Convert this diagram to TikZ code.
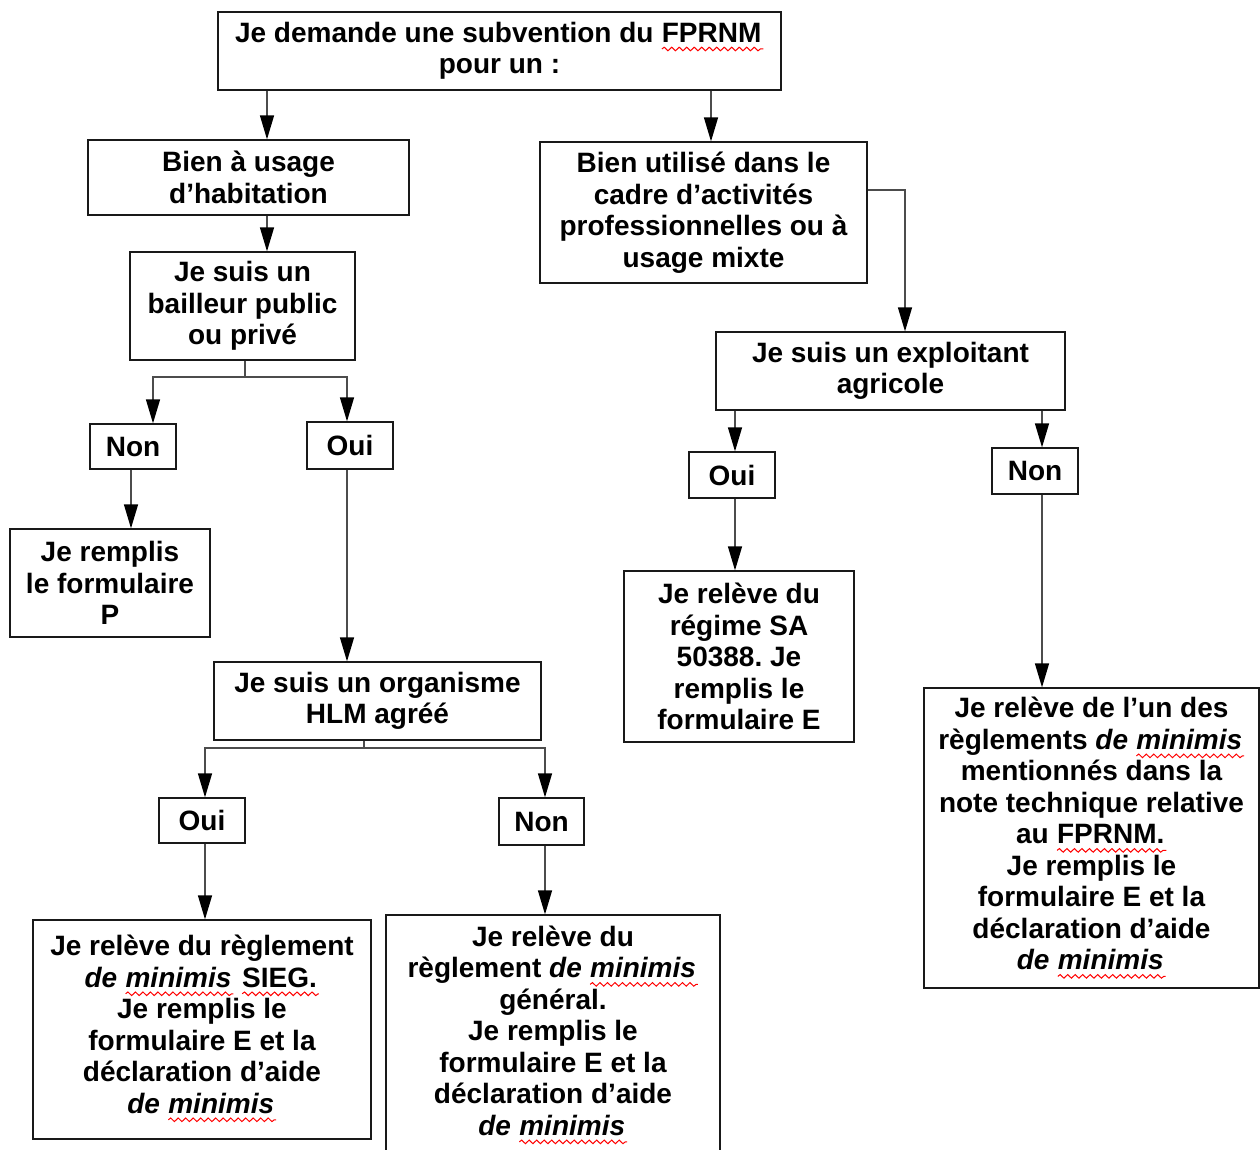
\documentclass[tikz,border=0pt]{standalone}
\usepackage{fontspec}
\setmainfont{Liberation Sans}
\usetikzlibrary{arrows.meta,decorations.pathmorphing}
\frenchspacing
\newcommand\wv[1]{\begin{tikzpicture}[baseline=(w.base)]\node[inner sep=0pt,outer sep=0pt,draw=none,fill=none,minimum width=0pt,minimum height=0pt,font={}] (w) {#1};\draw[red,line width=1pt,decorate,decoration={snake,amplitude=1.8pt,segment length=7.5pt}] ([yshift=-6.5pt]w.base west) -- ([yshift=-6.5pt,xshift=2pt]w.base east);\end{tikzpicture}}
\tikzset{
  box/.style={draw=black!90,line width=1.3pt,inner sep=0pt,align=center,
    font=\fontsize{28}{31.5}\selectfont\bfseries},
  arr/.style={draw=black!70,line width=1.4pt,-{Triangle[length=24pt,width=14pt,color=black]}},
  ln/.style={draw=black!70,line width=1.4pt}
}
\begin{document}
\begin{tikzpicture}[x=1pt,y=-1pt]
\clip (0,0) rectangle (1260,1149);
\fill[white] (0,0) rectangle (1260,1149);

\node[box,minimum width=563pt,minimum height=78pt] (top) at (499.5,51) {Je demande une subvention du \wv{FPRNM}\\pour un :};
\node[box,minimum width=321pt,minimum height=75pt] (hab) at (248.5,177.5) {Bien à usage\\d’habitation};
\node[box,minimum width=225pt,minimum height=108pt] (bail) at (242.5,306) {Je suis un\\bailleur public\\ou privé};
\node[box,minimum width=86pt,minimum height=45pt] (non1) at (133,446.5) {Non};
\node[box,minimum width=86pt,minimum height=47pt] (oui1) at (350,445.5) {Oui};
\node[box,minimum width=200pt,minimum height=108pt] (formP) at (110,583) {Je remplis\\le formulaire\\P};
\node[box,minimum width=327pt,minimum height=78pt] (hlm) at (377.5,701) {Je suis un organisme\\HLM agréé};
\node[box,minimum width=86pt,minimum height=45pt] (oui2) at (202,820.5) {Oui};
\node[box,minimum width=85pt,minimum height=47pt] (non2) at (541.5,821.5) {Non};
\node[box,minimum width=338pt,minimum height=219pt] (sieg) at (202,1029.5) {Je relève du règlement\\{\itshape de \wv{minimis}} \wv{SIEG.}\\Je remplis le\\formulaire E et la\\déclaration d’aide\\{\itshape de \wv{minimis}}\\[-21pt]\mbox{}};
\node[box,minimum width=334pt,minimum height=240pt] (gen) at (553,1035) {Je relève du\\règlement {\itshape de \wv{minimis}}\\général.\\Je remplis le\\formulaire E et la\\déclaration d’aide\\{\itshape de \wv{minimis}}};
\node[box,minimum width=327pt,minimum height=141pt] (pro) at (703.5,212.5) {Bien utilisé dans le\\cadre d’activités\\professionnelles ou à\\usage mixte};
\node[box,minimum width=349pt,minimum height=78pt] (expl) at (890.5,371) {Je suis un exploitant\\agricole};
\node[box,minimum width=86pt,minimum height=46pt] (oui3) at (732,475) {Oui};
\node[box,minimum width=86pt,minimum height=46pt] (non3) at (1035,471) {Non};
\node[box,minimum width=230pt,minimum height=171pt] (sa) at (739,656.5) {Je relève du\\régime SA\\50388. Je\\remplis le\\formulaire E};
\node[box,minimum width=335pt,minimum height=300pt] (dem) at (1091.5,838) {Je relève de l’un des\\règlements {\itshape de \wv{minimis}}\\mentionnés dans la\\note technique relative\\au \wv{FPRNM.}\\Je remplis le\\formulaire E et la\\déclaration d’aide\\{\itshape de \wv{minimis}}};

\coordinate (j1) at (245,377);
\coordinate (j2) at (364,748);
\coordinate (j3) at (905,190);

\draw[arr] (top.south -| 267,0) -- (hab.north -| 267,0);
\draw[arr] (top.south -| 711,0) -- (pro.north -| 711,0);
\draw[arr] (hab.south -| 267,0) -- (bail.north -| 267,0);
\draw[ln] (bail.south -| j1) -- (j1);
\draw[arr] (j1) -| (non1.north -| 153,0);
\draw[arr] (j1) -| (oui1.north -| 347,0);
\draw[arr] (non1.south -| 131,0) -- (formP.north -| 131,0);
\draw[arr] (oui1.south -| 347,0) -- (hlm.north -| 347,0);
\draw[ln] (hlm.south -| j2) -- (j2);
\draw[arr] (j2) -| (oui2.north -| 205,0);
\draw[arr] (j2) -| (non2.north -| 545,0);
\draw[arr] (oui2.south -| 205,0) -- (sieg.north -| 205,0);
\draw[arr] (non2.south -| 545,0) -- (gen.north -| 545,0);
\draw[arr] (pro.east |- j3) -| (expl.north -| j3);
\draw[arr] (expl.south -| 735,0) -- (oui3.north -| 735,0);
\draw[arr] (expl.south -| 1042,0) -- (non3.north -| 1042,0);
\draw[arr] (oui3.south -| 735,0) -- (sa.north -| 735,0);
\draw[arr] (non3.south -| 1042,0) -- (dem.north -| 1042,0);
\end{tikzpicture}
\end{document}
